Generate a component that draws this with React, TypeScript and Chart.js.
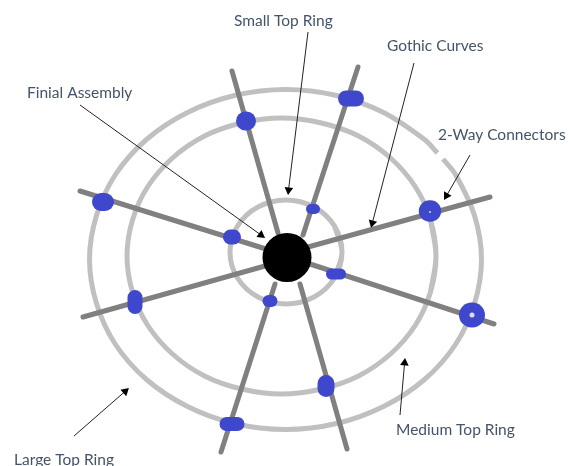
import React, { useEffect, useRef } from "react";
import { Chart, registerables } from "chart.js";

Chart.register(...registerables);

type P = { x: number; y: number };
const pts = (a: number[][]): P[] => a.map(([x, y]) => ({ x, y }));

const largeRing = [
  [443, 159], [455.5, 174.5], [474.5, 215.5], [481.5, 259.5], [474.5, 303.5], [455.5, 344.5],
  [424.5, 379.5], [383.5, 406.5], [336.5, 423.5], [285.5, 429.5], [234.5, 423.5], [187.5, 406.5],
  [146.5, 379.5], [115.5, 344.5], [96.5, 303.5], [89.5, 259.5], [96.5, 215.5], [115.5, 174.5],
  [146.5, 139.5], [187.5, 112.5], [234.5, 95.5], [285.5, 89.5], [336.5, 95.5], [383.5, 112.5],
  [424.5, 139.5], [437.5, 153],
];
const mediumRing = [
  [430.5, 220], [436, 256], [430.5, 292], [415.5, 325], [390.5, 354], [358.5, 376], [321.5, 389],
  [281.5, 394], [241.5, 389], [204.5, 376], [172.5, 354], [147.5, 325], [132.5, 292], [127, 256],
  [132.5, 220], [147.5, 187], [172.5, 158], [204.5, 136], [241.5, 123], [281.5, 118], [321.5, 123],
  [358.5, 136], [390.5, 158], [415.5, 187], [430.5, 220], [436, 256], [430.5, 292],
];
const smallRing = [
  [334.5, 226], [342, 252], [334.5, 278], [314, 297], [286, 304], [258, 297], [237.5, 278], [230, 252],
  [237.5, 226], [258, 207], [286, 200], [314, 207], [334.5, 226], [342, 252], [334.5, 278],
];
const rings = [largeRing, mediumRing, smallRing];

const spokes = [
  [[232, 71], [278, 233]],
  [[358, 67], [303, 235]],
  [[490, 197], [308, 247]],
  [[494, 324], [310, 264]],
  [[347, 449], [300, 284]],
  [[221, 452], [275, 284]],
  [[83, 317], [265, 266]],
  [[80, 191], [266, 249]],
];

const connectors = [
  [[245.5, 121], [246.5, 121]],
  [[346, 98.5], [356, 98.5]],
  [[101, 202], [105, 202]],
  [[230.5, 237], [233.5, 237]],
  [[311, 209], [315, 209]],
  [[429.5, 211], [430.5, 211]],
  [[331.5, 274], [340.5, 274]],
  [[471.5, 315], [472.5, 315]],
  [[326, 383.5], [326, 388.5]],
  [[226.5, 424], [237.5, 424]],
  [[268.5, 301], [271.5, 301]],
  [[135, 297.5], [135, 306.5]],
];
const connectorThickness = [19, 16, 18, 15, 10, 21.5, 11, 25, 17, 14, 12, 15];
const connectorHoles = [[430, 212], [472, 315]];
const connectorHoleSizes = [1, 2.5];

const hub = [[287, 257.5]];

const labelTexts = ["Small Top Ring", "Gothic Curves", "2-Way Connectors", "Finial Assembly", "Medium Top Ring", "Large Top Ring"];
const labelX = [234, 387, 438, 27, 396, 14];
const labelY = [21, 46, 135, 93, 430, 460];

const arrowLines = [
  [[308, 32], [288.5, 190]],
  [[414, 63], [372.3, 223]],
  [[470, 155], [446.5, 195.7]],
  [[80, 105], [261, 235]],
  [[400, 415], [404.6, 363]],
  [[74, 436], [125.2, 391.3]],
];
const arrowHeads = [[288.6, 190], [372.3, 223], [446.5, 195.7], [261, 235], [404.6, 363], [125.2, 391.3]];
const arrowAngles = [187, 195, 210, 126, 5, 48];

const line = (data: P[], color: string, width: number, cap: string, tension = 0) => ({
  data,
  showLine: true,
  borderColor: color,
  borderWidth: width,
  borderCapStyle: cap,
  borderJoinStyle: "round",
  pointRadius: 0,
  tension,
});

const labelPlugin = {
  id: "diagramLabels",
  afterDatasetsDraw(chart: any) {
    const { ctx, scales } = chart;
    ctx.save();
    ctx.font = '15.5px Lato, "Open Sans", sans-serif';
    ctx.fillStyle = "#44546a";
    ctx.textAlign = "left";
    ctx.textBaseline = "middle";
    labelTexts.forEach((t, i) => {
      ctx.fillText(t, scales.x.getPixelForValue(labelX[i]), scales.y.getPixelForValue(labelY[i]));
    });
    ctx.restore();
  },
};

export default function App() {
  const ref = useRef<HTMLCanvasElement>(null);
  useEffect(() => {
    if (!ref.current) return;
    const paintOrder: any[] = [
      ...rings.map((r) => line(pts(r), "#c0c0c0", 5, "butt", 0.34)),
      ...spokes.map((s) => line(pts(s), "#808080", 5, "round")),
      ...connectors.map((c, i) => line(pts(c), "#3f48cc", connectorThickness[i], "round")),
      {
        data: pts(connectorHoles),
        showLine: false,
        pointRadius: connectorHoleSizes,
        pointBackgroundColor: "#dcdcf0",
        pointBorderWidth: 0,
      },
      { data: pts(hub), showLine: false, pointRadius: 24.5, pointBackgroundColor: "#000000", pointBorderWidth: 0 },
      ...arrowLines.map((a) => line(pts(a), "#222222", 1, "butt")),
      {
        data: pts(arrowHeads),
        showLine: false,
        pointStyle: "triangle",
        pointRadius: 5,
        pointRotation: arrowAngles,
        pointBackgroundColor: "#000000",
        pointBorderWidth: 0,
      },
    ];
    // Chart.js paints the first dataset last, so the list is reversed.
    const datasets = paintOrder.reverse();
    const chart = new Chart(ref.current, {
      type: "scatter",
      data: { datasets },
      options: {
        animation: false,
        responsive: false,
        events: [],
        layout: { padding: 0, autoPadding: false },
        plugins: { legend: { display: false }, tooltip: { enabled: false } },
        scales: {
          x: { type: "linear", display: false, min: 0, max: 579 },
          y: { type: "linear", display: false, min: 0, max: 466, reverse: true },
        },
      } as any,
      plugins: [labelPlugin],
    } as any);
    return () => chart.destroy();
  }, []);
  return (
    <canvas
      ref={ref}
      width={579}
      height={466}
      style={{ position: "fixed", left: 0, top: 0, width: 579, height: 466, background: "#ffffff" }}
    />
  );
}
